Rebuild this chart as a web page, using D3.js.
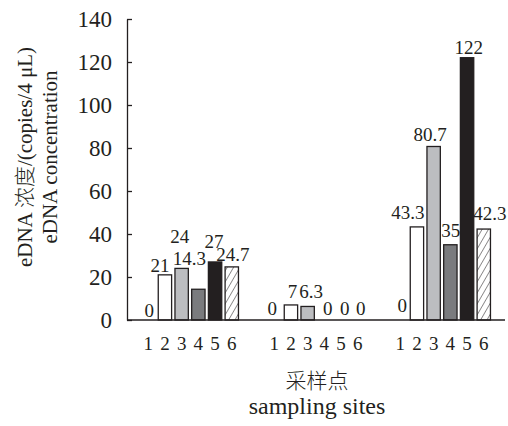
<!DOCTYPE html>
<html>
<head>
<meta charset="utf-8">
<script src="https://cdn.jsdelivr.net/npm/d3@7"></script>
<style>
  body { margin: 0; background: #fff; }
  svg text { font-family: "Liberation Serif", "Times New Roman", serif; fill: #231f20; }
  svg text .cjk { font-family: "Noto Sans CJK SC", sans-serif; font-weight: 300; }
  .axis path, .axis line { stroke: #231f20; stroke-width: 1.3; }
</style>
</head>
<body>
<svg id="chart"></svg>
<script>
// Chart data
var sites = ["1", "2", "3", "4", "5", "6"];
var values = [
  [0, 21, 24, 14.3, 27, 24.7],
  [0, 7, 6.3, 0, 0, 0],
  [0, 43.3, 80.7, 35, 122, 42.3]
];
var valueLabels = [
  ["0", "21", "24", "14.3", "27", "24.7"],
  ["0", "7", "6.3", "0", "0", "0"],
  ["0", "43.3", "80.7", "35", "122", "42.3"]
];
var yTicks = [0, 20, 40, 60, 80, 100, 120, 140];

// Label nudges [dx, dy] so labels don't collide (layout only)
var labelNudge = [
  [[1, 0], [-5, 0], [-2, -22], [-9, -21], [-1, -11], [1, -3]],
  [[-2, -2], [1.5, -4], [3.5, -5], [3.5, -2], [3.7, -2], [3, -2]],
  [[2, -5], [-9, -5], [-3.5, -2], [0.3, -4.5], [1.7, -1], [6, -6]]
];

// SVG size params
var width = 508;
var height = 426;

var svg = d3.select("#chart")
    .attr("width", width)
    .attr("height", height);

// Hatch pattern for site 6
svg.append("defs").append("pattern")
    .attr("id", "hatch")
    .attr("patternUnits", "userSpaceOnUse")
    .attr("width", 5.5)
    .attr("height", 5.5)
    .attr("patternTransform", "rotate(30)")
  .append("line")
    .attr("x1", 0).attr("y1", 0)
    .attr("x2", 0).attr("y2", 5.5)
    .attr("stroke", "#231f20")
    .attr("stroke-width", 1);

// Scales
var x0 = d3.scaleBand()
    .domain(d3.range(values.length))
    .range([127, 505])
    .padding(0);

var x1 = d3.scaleBand()
    .domain(sites)
    .range([0, x0.bandwidth()])
    .paddingInner(0.2)
    .paddingOuter(0.87);

var y = d3.scaleLinear()
    .domain([0, 140])
    .range([320, 19]);

var siteFill = d3.scaleOrdinal()
    .domain(sites)
    .range(["#ffffff", "#ffffff", "#bcbdc0", "#7a7b7e", "#231f20", "url(#hatch)"]);

// Groups
var g = svg.selectAll(".group")
  .data(values)
  .enter().append("g")
    .attr("class", "group")
    .attr("transform", (d, i) => "translate(" + x0(i) + ",0)");

// Bars (zero values draw nothing)
g.selectAll("rect")
  .data(d => d.map((v, j) => ({site: sites[j], v: v})).filter(d => d.v > 0))
  .enter().append("rect")
    .attr("x", d => x1(d.site))
    .attr("y", d => y(d.v))
    .attr("width", x1.bandwidth())
    .attr("height", d => y(0) - y(d.v))
    .attr("fill", d => siteFill(d.site))
    .attr("stroke", "#231f20")
    .attr("stroke-width", 1.3);

// Value labels
g.each(function(row, i) {
  d3.select(this).selectAll(".val")
    .data(row)
    .enter().append("text")
      .attr("class", "val")
      .attr("text-anchor", "middle")
      .style("font-size", "19px")
      .attr("x", (v, j) => x1(sites[j]) + x1.bandwidth() / 2 + labelNudge[i][j][0])
      .attr("y", (v, j) => y(v) - 3 + labelNudge[i][j][1])
      .text((v, j) => valueLabels[i][j]);
});

// Site numbers under each bar
g.selectAll(".site")
  .data(sites)
  .enter().append("text")
    .attr("class", "site")
    .attr("text-anchor", "middle")
    .style("font-size", "19px")
    .attr("x", d => x1(d) + x1.bandwidth() / 2)
    .attr("y", 350)
    .text(d => d);

// Y axis
var yAxis = d3.axisLeft(y)
    .tickValues(yTicks)
    .tickSizeInner(-5)
    .tickSizeOuter(0)
    .tickPadding(15);

svg.append("g")
    .attr("class", "axis")
    .attr("transform", "translate(127,0)")
    .call(yAxis)
    .call(a => a.selectAll("text").style("font-size", "23px"));

// X axis line
svg.append("line")
    .attr("x1", 127).attr("x2", 505)
    .attr("y1", y(0)).attr("y2", y(0))
    .attr("stroke", "#231f20")
    .attr("stroke-width", 1.3);

// Axis titles
var t1 = svg.append("text")
    .attr("transform", "translate(32,157) rotate(-90)")
    .attr("text-anchor", "middle")
    .style("font-size", "21px");
t1.append("tspan").text("eDNA ");
t1.append("tspan").attr("class", "cjk").text("浓度");
t1.append("tspan").text("/(copies/4 μL)");

svg.append("text")
    .attr("transform", "translate(57,157) rotate(-90)")
    .attr("text-anchor", "middle")
    .style("font-size", "21px")
    .text("eDNA concentration");

svg.append("text")
    .attr("x", 317).attr("y", 388)
    .attr("text-anchor", "middle")
    .style("font-size", "21px")
  .append("tspan")
    .attr("class", "cjk")
    .text("采样点");

svg.append("text")
    .attr("x", 317).attr("y", 414)
    .attr("text-anchor", "middle")
    .style("font-size", "24px")
    .text("sampling sites");
</script>
</body>
</html>
